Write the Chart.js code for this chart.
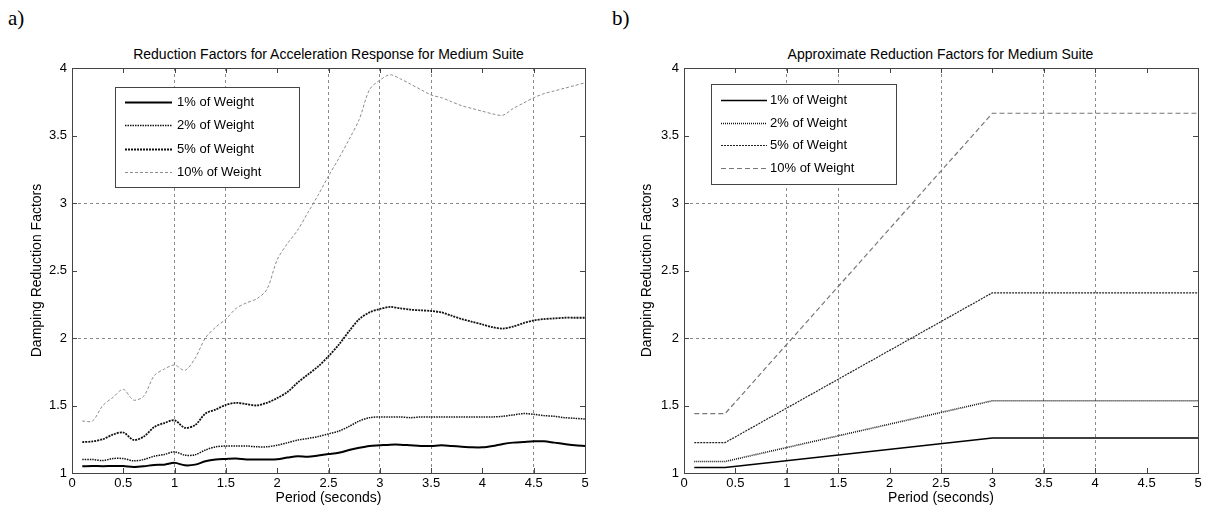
<!DOCTYPE html>
<html lang="en">
<head>
<meta charset="UTF-8">
<title>Damping Reduction Factors</title>
<script src="https://cdn.jsdelivr.net/npm/chart.js"></script>
<style>
  body { margin: 0; background: #fff; width: 1208px; height: 513px; position: relative; overflow: hidden;
         font-family: "Liberation Sans", Arial, sans-serif; }
  .lbl { position: absolute; top: 6px; font-family: "Liberation Serif", "Times New Roman", serif; font-size: 21px; }
  .ttl { position: absolute; top: 46px; font-size: 14px; line-height: 16px; text-align: center; width: 513px; }
  canvas { position: absolute; top: 0; }
</style>
</head>
<body>
<div class="lbl" style="left:8px">a)</div>
<div class="lbl" style="left:612px">b)</div>
<div class="ttl" style="left:72px">Reduction Factors for Acceleration Response for Medium Suite</div>
<div class="ttl" style="left:684px">Approximate Reduction Factors for Medium Suite</div>
<canvas id="left" width="600" height="513" style="left:0"></canvas>
<canvas id="right" width="608" height="513" style="left:600px"></canvas>

<script>
// data
const seriesLabels = ['1% of Weight', '2% of Weight', '5% of Weight', '10% of Weight'];

const periods = [0.1, 0.2, 0.3, 0.4, 0.5, 0.6, 0.7, 0.8, 0.9, 1.0,
                 1.1, 1.2, 1.3, 1.4, 1.5, 1.6, 1.7, 1.8, 1.9, 2.0,
                 2.1, 2.2, 2.3, 2.4, 2.5, 2.6, 2.7, 2.8, 2.9, 3.0,
                 3.1, 3.2, 3.3, 3.4, 3.5, 3.6, 3.7, 3.8, 3.9, 4.0,
                 4.1, 4.2, 4.3, 4.4, 4.5, 4.6, 4.7, 4.8, 4.9, 5.0];

const accel1 = [1.05, 1.052, 1.05, 1.052, 1.052, 1.045, 1.05, 1.06, 1.062, 1.075,
                1.057, 1.062, 1.087, 1.10, 1.104, 1.107, 1.10, 1.10, 1.10, 1.102,
                1.114, 1.124, 1.12, 1.13, 1.14, 1.15, 1.17, 1.187, 1.20, 1.205,
                1.21, 1.21, 1.205, 1.20, 1.20, 1.205, 1.20, 1.195, 1.19, 1.19,
                1.20, 1.215, 1.225, 1.23, 1.235, 1.235, 1.225, 1.215, 1.205, 1.20];

const accel2 = [1.10, 1.10, 1.092, 1.107, 1.107, 1.09, 1.10, 1.124, 1.137, 1.157,
                1.132, 1.135, 1.17, 1.194, 1.20, 1.20, 1.20, 1.194, 1.194, 1.206,
                1.224, 1.244, 1.256, 1.27, 1.29, 1.31, 1.345, 1.385, 1.41, 1.415,
                1.415, 1.415, 1.41, 1.415, 1.415, 1.415, 1.415, 1.415, 1.415, 1.415,
                1.415, 1.42, 1.43, 1.44, 1.435, 1.425, 1.42, 1.41, 1.405, 1.40];

const accel5 = [1.229, 1.234, 1.25, 1.285, 1.30, 1.245, 1.27, 1.34, 1.37, 1.39,
                1.335, 1.355, 1.44, 1.47, 1.505, 1.52, 1.51, 1.50, 1.52, 1.555,
                1.60, 1.67, 1.73, 1.79, 1.865, 1.95, 2.05, 2.14, 2.19, 2.215,
                2.23, 2.22, 2.21, 2.205, 2.20, 2.19, 2.165, 2.14, 2.12, 2.10,
                2.08, 2.07, 2.085, 2.11, 2.13, 2.14, 2.145, 2.15, 2.15, 2.15];

const accel10 = [1.385, 1.385, 1.50, 1.56, 1.62, 1.54, 1.57, 1.72, 1.77, 1.80,
                 1.76, 1.85, 2.0, 2.08, 2.14, 2.22, 2.26, 2.29, 2.36, 2.58,
                 2.70, 2.80, 2.93, 3.06, 3.20, 3.33, 3.47, 3.62, 3.84, 3.91,
                 3.95, 3.92, 3.88, 3.84, 3.80, 3.78, 3.75, 3.72, 3.70, 3.68,
                 3.66, 3.65, 3.70, 3.74, 3.78, 3.81, 3.83, 3.85, 3.87, 3.89];

const approxPeriods = [0.1, 0.4, 3.0, 5.0];
const approx1 = [1.04, 1.04, 1.26, 1.26];
const approx2 = [1.085, 1.085, 1.535, 1.535];
const approx5 = [1.225, 1.225, 2.335, 2.335];
const approx10 = [1.44, 1.44, 3.665, 3.665];

function pairs(xs, ys) {
    return xs.map((x, i) => ({ x: x, y: ys[i] }));
}

const tickFont = { family: '"Liberation Sans", Arial, sans-serif', size: 13 };
const titleFont = { family: '"Liberation Sans", Arial, sans-serif', size: 14 };

// MATLAB style: 1, 1.5, 2 ... (no trailing .0)
function fmt(v) {
    return String(+Number(v).toFixed(1));
}

// legend box drawn inside the plot, like the MATLAB one
const boxLegend = {
    id: 'boxLegend',
    afterDatasetsDraw(chart, args, o) {
        const ctx = chart.ctx;
        ctx.save();
        ctx.fillStyle = '#fff';
        ctx.fillRect(o.x, o.y, o.w, o.h);
        ctx.strokeStyle = '#444';
        ctx.lineWidth = 1;
        ctx.strokeRect(o.x + 0.5, o.y + 0.5, o.w, o.h);
        chart.data.datasets.forEach((ds, i) => {
            const y = Math.round(o.y + o.first + i * o.gap) + 0.5;
            ctx.beginPath();
            ctx.setLineDash(ds.borderDash || []);
            ctx.lineWidth = ds.borderWidth;
            ctx.strokeStyle = ds.borderColor;
            ctx.moveTo(o.x + o.lineStart, y);
            ctx.lineTo(o.x + o.lineEnd, y);
            ctx.stroke();
            ctx.setLineDash([]);
            ctx.fillStyle = '#000';
            ctx.font = '13px "Liberation Sans", Arial, sans-serif';
            ctx.textBaseline = 'middle';
            ctx.fillText(ds.label, o.x + o.textStart, y);
        });
        ctx.restore();
    }
};

// box round the plot and inward tick marks on all four sides
const frame = {
    id: 'frame',
    afterDatasetsDraw(chart) {
        const ctx = chart.ctx;
        const a = chart.chartArea;
        const xs = chart.scales.x, ys = chart.scales.y;
        ctx.save();
        ctx.strokeStyle = '#444';
        ctx.lineWidth = 1;
        ctx.beginPath();
        xs.ticks.forEach(t => {
            const px = Math.round(xs.getPixelForValue(t.value)) + 0.5;
            ctx.moveTo(px, a.bottom); ctx.lineTo(px, a.bottom - 5);
            ctx.moveTo(px, a.top); ctx.lineTo(px, a.top + 5);
        });
        ys.ticks.forEach(t => {
            const py = Math.round(ys.getPixelForValue(t.value)) + 0.5;
            ctx.moveTo(a.left, py); ctx.lineTo(a.left + 5, py);
            ctx.moveTo(a.right, py); ctx.lineTo(a.right - 5, py);
        });
        ctx.stroke();
        ctx.strokeRect(Math.round(a.left) + 0.5, Math.round(a.top) + 0.5,
                       Math.round(a.right - a.left), Math.round(a.bottom - a.top));
        ctx.restore();
    }
};

function onList(list, v) {
    return list.some(g => Math.abs(g - v) < 1e-6);
}

function makeChart(id, xs, series, styles, cfg) {
    const datasets = series.map((ys, i) => Object.assign({
        label: seriesLabels[i],
        data: pairs(xs, ys),
        pointRadius: 0,
        fill: false,
        tension: cfg.tension
    }, styles[i]));

    return new Chart(document.getElementById(id), {
        type: 'line',
        data: { datasets: datasets },
        plugins: [frame, boxLegend],
        options: {
            responsive: false,
            animation: false,
            layout: { padding: { top: 68, right: cfg.padRight, left: 0, bottom: 0 } },
            plugins: {
                legend: { display: false },
                tooltip: { enabled: false },
                boxLegend: cfg.legend
            },
            scales: {
                x: {
                    type: 'linear', min: 0, max: 5,
                    ticks: { stepSize: 0.5, color: '#000', font: tickFont, padding: 3, maxRotation: 0, autoSkip: false, callback: fmt },
                    grid: {
                        drawTicks: false,
                        color: c => (c.tick && onList(cfg.xGrid, c.tick.value)) ? '#8a8a8a' : 'rgba(0,0,0,0)'
                    },
                    border: { display: false, dash: [3, 3] },
                    title: { display: true, text: 'Period (seconds)', color: '#000', font: titleFont, padding: { top: 0, bottom: 6 } },
                    afterFit: s => { s.height = 40; }
                },
                y: {
                    min: 1, max: 4,
                    ticks: { stepSize: 0.5, color: '#000', font: tickFont, padding: 5, callback: fmt },
                    grid: {
                        drawTicks: false,
                        color: c => (c.tick && onList([2, 3], c.tick.value)) ? '#8a8a8a' : 'rgba(0,0,0,0)'
                    },
                    border: { display: false, dash: [3, 3] },
                    title: { display: true, text: 'Damping Reduction Factors', color: '#000', font: titleFont, padding: { top: cfg.yTitlePad, bottom: 0 } },
                    afterFit: s => { s.width = cfg.yWidth; }
                }
            }
        }
    });
}

makeChart('left', periods, [accel1, accel2, accel5, accel10], [
    { borderColor: '#000', borderWidth: 2 },
    { borderColor: '#111', borderWidth: 1.5, borderDash: [1.5, 1] },
    { borderColor: '#111', borderWidth: 1.8, borderDash: [2, 1] },
    { borderColor: '#8c8c8c', borderWidth: 1, borderDash: [3, 2] }
], {
    tension: 0.3, padRight: 15, yWidth: 72, yTitlePad: 29,
    xGrid: [1, 1.5, 2.5, 3, 3.5, 4.5],
    legend: { x: 115, y: 87, w: 184, h: 100, first: 15, gap: 23.3, lineStart: 10, lineEnd: 57, textStart: 62 }
});

makeChart('right', approxPeriods, [approx1, approx2, approx5, approx10], [
    { borderColor: '#000', borderWidth: 1.5 },
    { borderColor: '#111', borderWidth: 1.6, borderDash: [1, 1] },
    { borderColor: '#222', borderWidth: 1.2, borderDash: [2, 1] },
    { borderColor: '#777', borderWidth: 1.2, borderDash: [5, 3] }
], {
    tension: 0, padRight: 10, yWidth: 84, yTitlePad: 39,
    xGrid: [1, 1.5, 2.5, 3.5, 4],
    legend: { x: 111, y: 84, w: 185, h: 100, first: 16, gap: 22.7, lineStart: 10, lineEnd: 56, textStart: 59 }
});
</script>
</body>
</html>
